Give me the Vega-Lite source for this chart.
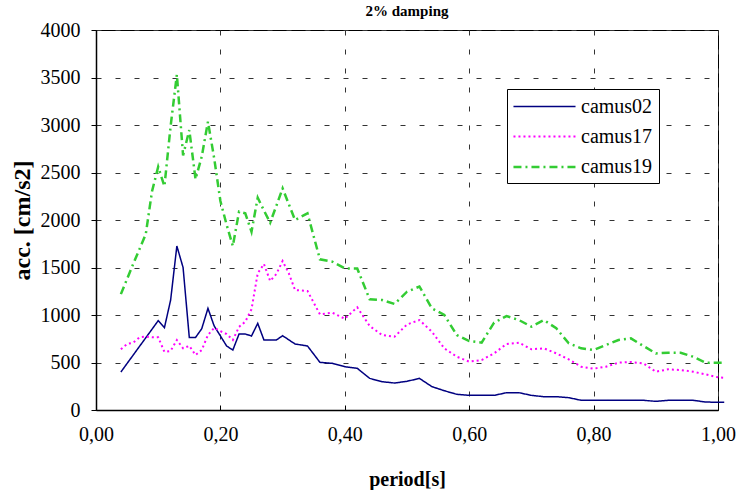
{
  "$schema": "https://vega.github.io/schema/vega-lite/v6.json",
  "width": 622,
  "height": 380,
  "autosize": {"type": "none"},
  "padding": {"left": 96, "top": 30, "right": 18, "bottom": 80},
  "background": "white",
  "title": {"text": "2% damping", "fontSize": 15, "fontWeight": "bold", "font": "Liberation Serif, Times New Roman, serif", "anchor": "middle", "offset": 1, "color": "#000"},
  "data": {"values": [
    {"p":0.04,"a":400,"s":"camus02"},{"p":0.06,"a":580,"s":"camus02"},{"p":0.08,"a":760,"s":"camus02"},{"p":0.10,"a":940,"s":"camus02"},{"p":0.11,"a":866,"s":"camus02"},{"p":0.12,"a":1158,"s":"camus02"},{"p":0.13,"a":1726,"s":"camus02"},{"p":0.14,"a":1500,"s":"camus02"},{"p":0.15,"a":763,"s":"camus02"},{"p":0.16,"a":763,"s":"camus02"},{"p":0.17,"a":856,"s":"camus02"},{"p":0.18,"a":1070,"s":"camus02"},{"p":0.19,"a":884,"s":"camus02"},{"p":0.20,"a":780,"s":"camus02"},{"p":0.21,"a":674,"s":"camus02"},{"p":0.22,"a":631,"s":"camus02"},{"p":0.23,"a":800,"s":"camus02"},{"p":0.24,"a":800,"s":"camus02"},{"p":0.25,"a":779,"s":"camus02"},{"p":0.26,"a":912,"s":"camus02"},{"p":0.27,"a":737,"s":"camus02"},{"p":0.28,"a":737,"s":"camus02"},{"p":0.29,"a":737,"s":"camus02"},{"p":0.30,"a":782,"s":"camus02"},{"p":0.32,"a":695,"s":"camus02"},{"p":0.34,"a":674,"s":"camus02"},{"p":0.36,"a":502,"s":"camus02"},{"p":0.38,"a":491,"s":"camus02"},{"p":0.40,"a":456,"s":"camus02"},{"p":0.42,"a":439,"s":"camus02"},{"p":0.44,"a":333,"s":"camus02"},{"p":0.46,"a":298,"s":"camus02"},{"p":0.48,"a":284,"s":"camus02"},{"p":0.50,"a":302,"s":"camus02"},{"p":0.52,"a":333,"s":"camus02"},{"p":0.54,"a":246,"s":"camus02"},{"p":0.56,"a":203,"s":"camus02"},{"p":0.58,"a":165,"s":"camus02"},{"p":0.60,"a":154,"s":"camus02"},{"p":0.62,"a":154,"s":"camus02"},{"p":0.64,"a":154,"s":"camus02"},{"p":0.66,"a":182,"s":"camus02"},{"p":0.68,"a":182,"s":"camus02"},{"p":0.70,"a":154,"s":"camus02"},{"p":0.72,"a":140,"s":"camus02"},{"p":0.74,"a":140,"s":"camus02"},{"p":0.76,"a":130,"s":"camus02"},{"p":0.78,"a":102,"s":"camus02"},{"p":0.80,"a":102,"s":"camus02"},{"p":0.82,"a":102,"s":"camus02"},{"p":0.84,"a":102,"s":"camus02"},{"p":0.86,"a":102,"s":"camus02"},{"p":0.88,"a":102,"s":"camus02"},{"p":0.90,"a":91,"s":"camus02"},{"p":0.92,"a":102,"s":"camus02"},{"p":0.94,"a":102,"s":"camus02"},{"p":0.96,"a":102,"s":"camus02"},{"p":0.98,"a":84,"s":"camus02"},{"p":1.00,"a":81,"s":"camus02"},{"p":1.01,"a":81,"s":"camus02"},
    {"p":0.04,"a":640,"s":"camus17"},{"p":0.05,"a":695,"s":"camus17"},{"p":0.06,"a":709,"s":"camus17"},{"p":0.07,"a":765,"s":"camus17"},{"p":0.08,"a":772,"s":"camus17"},{"p":0.09,"a":765,"s":"camus17"},{"p":0.10,"a":765,"s":"camus17"},{"p":0.11,"a":612,"s":"camus17"},{"p":0.12,"a":622,"s":"camus17"},{"p":0.13,"a":737,"s":"camus17"},{"p":0.14,"a":649,"s":"camus17"},{"p":0.15,"a":675,"s":"camus17"},{"p":0.16,"a":579,"s":"camus17"},{"p":0.17,"a":631,"s":"camus17"},{"p":0.18,"a":790,"s":"camus17"},{"p":0.19,"a":865,"s":"camus17"},{"p":0.20,"a":830,"s":"camus17"},{"p":0.21,"a":800,"s":"camus17"},{"p":0.22,"a":737,"s":"camus17"},{"p":0.23,"a":875,"s":"camus17"},{"p":0.24,"a":930,"s":"camus17"},{"p":0.25,"a":1060,"s":"camus17"},{"p":0.26,"a":1439,"s":"camus17"},{"p":0.27,"a":1537,"s":"camus17"},{"p":0.28,"a":1358,"s":"camus17"},{"p":0.29,"a":1432,"s":"camus17"},{"p":0.30,"a":1568,"s":"camus17"},{"p":0.31,"a":1439,"s":"camus17"},{"p":0.32,"a":1263,"s":"camus17"},{"p":0.34,"a":1253,"s":"camus17"},{"p":0.36,"a":1007,"s":"camus17"},{"p":0.38,"a":1024,"s":"camus17"},{"p":0.40,"a":961,"s":"camus17"},{"p":0.42,"a":1081,"s":"camus17"},{"p":0.44,"a":884,"s":"camus17"},{"p":0.46,"a":789,"s":"camus17"},{"p":0.48,"a":772,"s":"camus17"},{"p":0.50,"a":900,"s":"camus17"},{"p":0.52,"a":947,"s":"camus17"},{"p":0.54,"a":824,"s":"camus17"},{"p":0.56,"a":649,"s":"camus17"},{"p":0.58,"a":561,"s":"camus17"},{"p":0.60,"a":509,"s":"camus17"},{"p":0.62,"a":526,"s":"camus17"},{"p":0.64,"a":596,"s":"camus17"},{"p":0.66,"a":695,"s":"camus17"},{"p":0.68,"a":709,"s":"camus17"},{"p":0.70,"a":639,"s":"camus17"},{"p":0.72,"a":649,"s":"camus17"},{"p":0.74,"a":596,"s":"camus17"},{"p":0.76,"a":533,"s":"camus17"},{"p":0.78,"a":456,"s":"camus17"},{"p":0.80,"a":435,"s":"camus17"},{"p":0.82,"a":456,"s":"camus17"},{"p":0.84,"a":498,"s":"camus17"},{"p":0.86,"a":505,"s":"camus17"},{"p":0.88,"a":491,"s":"camus17"},{"p":0.90,"a":403,"s":"camus17"},{"p":0.92,"a":428,"s":"camus17"},{"p":0.94,"a":421,"s":"camus17"},{"p":0.96,"a":403,"s":"camus17"},{"p":0.98,"a":375,"s":"camus17"},{"p":1.00,"a":344,"s":"camus17"},{"p":1.01,"a":340,"s":"camus17"},
    {"p":0.04,"a":1220,"s":"camus19"},{"p":0.06,"a":1540,"s":"camus19"},{"p":0.08,"a":1850,"s":"camus19"},{"p":0.09,"a":2300,"s":"camus19"},{"p":0.10,"a":2560,"s":"camus19"},{"p":0.11,"a":2355,"s":"camus19"},{"p":0.12,"a":2990,"s":"camus19"},{"p":0.13,"a":3530,"s":"camus19"},{"p":0.14,"a":2680,"s":"camus19"},{"p":0.15,"a":2947,"s":"camus19"},{"p":0.16,"a":2430,"s":"camus19"},{"p":0.17,"a":2667,"s":"camus19"},{"p":0.18,"a":3035,"s":"camus19"},{"p":0.19,"a":2650,"s":"camus19"},{"p":0.20,"a":2200,"s":"camus19"},{"p":0.21,"a":1950,"s":"camus19"},{"p":0.22,"a":1726,"s":"camus19"},{"p":0.23,"a":2088,"s":"camus19"},{"p":0.24,"a":2070,"s":"camus19"},{"p":0.25,"a":1877,"s":"camus19"},{"p":0.26,"a":2235,"s":"camus19"},{"p":0.27,"a":2100,"s":"camus19"},{"p":0.28,"a":1972,"s":"camus19"},{"p":0.29,"a":2150,"s":"camus19"},{"p":0.30,"a":2333,"s":"camus19"},{"p":0.32,"a":2000,"s":"camus19"},{"p":0.34,"a":2070,"s":"camus19"},{"p":0.36,"a":1586,"s":"camus19"},{"p":0.38,"a":1561,"s":"camus19"},{"p":0.40,"a":1491,"s":"camus19"},{"p":0.42,"a":1490,"s":"camus19"},{"p":0.44,"a":1165,"s":"camus19"},{"p":0.46,"a":1158,"s":"camus19"},{"p":0.48,"a":1116,"s":"camus19"},{"p":0.50,"a":1245,"s":"camus19"},{"p":0.52,"a":1300,"s":"camus19"},{"p":0.54,"a":1070,"s":"camus19"},{"p":0.56,"a":1000,"s":"camus19"},{"p":0.58,"a":789,"s":"camus19"},{"p":0.60,"a":726,"s":"camus19"},{"p":0.62,"a":709,"s":"camus19"},{"p":0.64,"a":919,"s":"camus19"},{"p":0.66,"a":989,"s":"camus19"},{"p":0.68,"a":947,"s":"camus19"},{"p":0.70,"a":877,"s":"camus19"},{"p":0.72,"a":947,"s":"camus19"},{"p":0.74,"a":860,"s":"camus19"},{"p":0.76,"a":702,"s":"camus19"},{"p":0.78,"a":649,"s":"camus19"},{"p":0.80,"a":631,"s":"camus19"},{"p":0.82,"a":684,"s":"camus19"},{"p":0.84,"a":737,"s":"camus19"},{"p":0.86,"a":754,"s":"camus19"},{"p":0.88,"a":674,"s":"camus19"},{"p":0.90,"a":596,"s":"camus19"},{"p":0.92,"a":603,"s":"camus19"},{"p":0.94,"a":603,"s":"camus19"},{"p":0.96,"a":561,"s":"camus19"},{"p":0.98,"a":498,"s":"camus19"},{"p":1.00,"a":498,"s":"camus19"},{"p":1.01,"a":498,"s":"camus19"}
  ]},
  "mark": {"type": "line", "clip": false},
  "encoding": {
    "x": {"field": "p", "type": "quantitative",
      "scale": {"domain": [0, 1], "nice": false, "zero": false},
      "axis": {"values": [0, 0.2, 0.4, 0.6, 0.8, 1.0], "labelFlush": false, "labelExpr": "replace(format(datum.value, '.2f'), '.', ',')", "title": "period[s]", "titlePadding": 25, "tickSize": -5, "labelPadding": 19}},
    "y": {"field": "a", "type": "quantitative",
      "scale": {"domain": [0, 4000], "nice": false},
      "axis": {"values": [0, 500, 1000, 1500, 2000, 2500, 3000, 3500, 4000], "labelFlush": false, "format": "d", "title": "acc. [cm/s2]", "titleFontSize": 24, "titlePadding": 6, "labelPadding": 11}},
    "color": {"field": "s", "type": "nominal",
      "scale": {"domain": ["camus02", "camus17", "camus19"], "range": ["#000080", "#ff00ff", "#33cc33"]},
      "legend": {"title": null, "orient": "none", "legendX": 411, "legendY": 59, "symbolType": "M-3,0H3", "symbolSize": 428, "symbolStrokeWidth": 2, "symbolOffset": 19.5, "labelFontSize": 20, "labelFont": "Liberation Serif, Times New Roman, serif", "labelColor": "#000", "labelOffset": 24.5, "strokeColor": "#000", "fillColor": "#fff", "padding": 6, "rowPadding": 8, "labelLimit": 200}},
    "strokeDash": {"field": "s", "type": "nominal",
      "scale": {"domain": ["camus02", "camus17", "camus19"], "range": [[1, 0], [2, 3], [8, 4, 2, 4]]}},
    "strokeWidth": {"field": "s", "type": "nominal",
      "scale": {"domain": ["camus02", "camus17", "camus19"], "range": [1.5, 2.5, 1.5]}, "legend": null}
  },
  "config": {
    "font": "Liberation Serif, Times New Roman, serif",
    "view": {"stroke": "#000", "strokeWidth": 1},
    "axis": {
      "domainColor": "#000", "domainWidth": 1.5, "tickColor": "#000", "tickSize": 5,
      "labelFontSize": 20, "labelColor": "#000", "labelFont": "Liberation Serif, Times New Roman, serif",
      "titleFontSize": 20, "titleFontWeight": "bold", "titleColor": "#000", "titleFont": "Liberation Serif, Times New Roman, serif",
      "grid": true, "gridColor": "#333", "gridDash": [5, 14], "gridWidth": 1, "gridOpacity": 1
    }
  }
}
